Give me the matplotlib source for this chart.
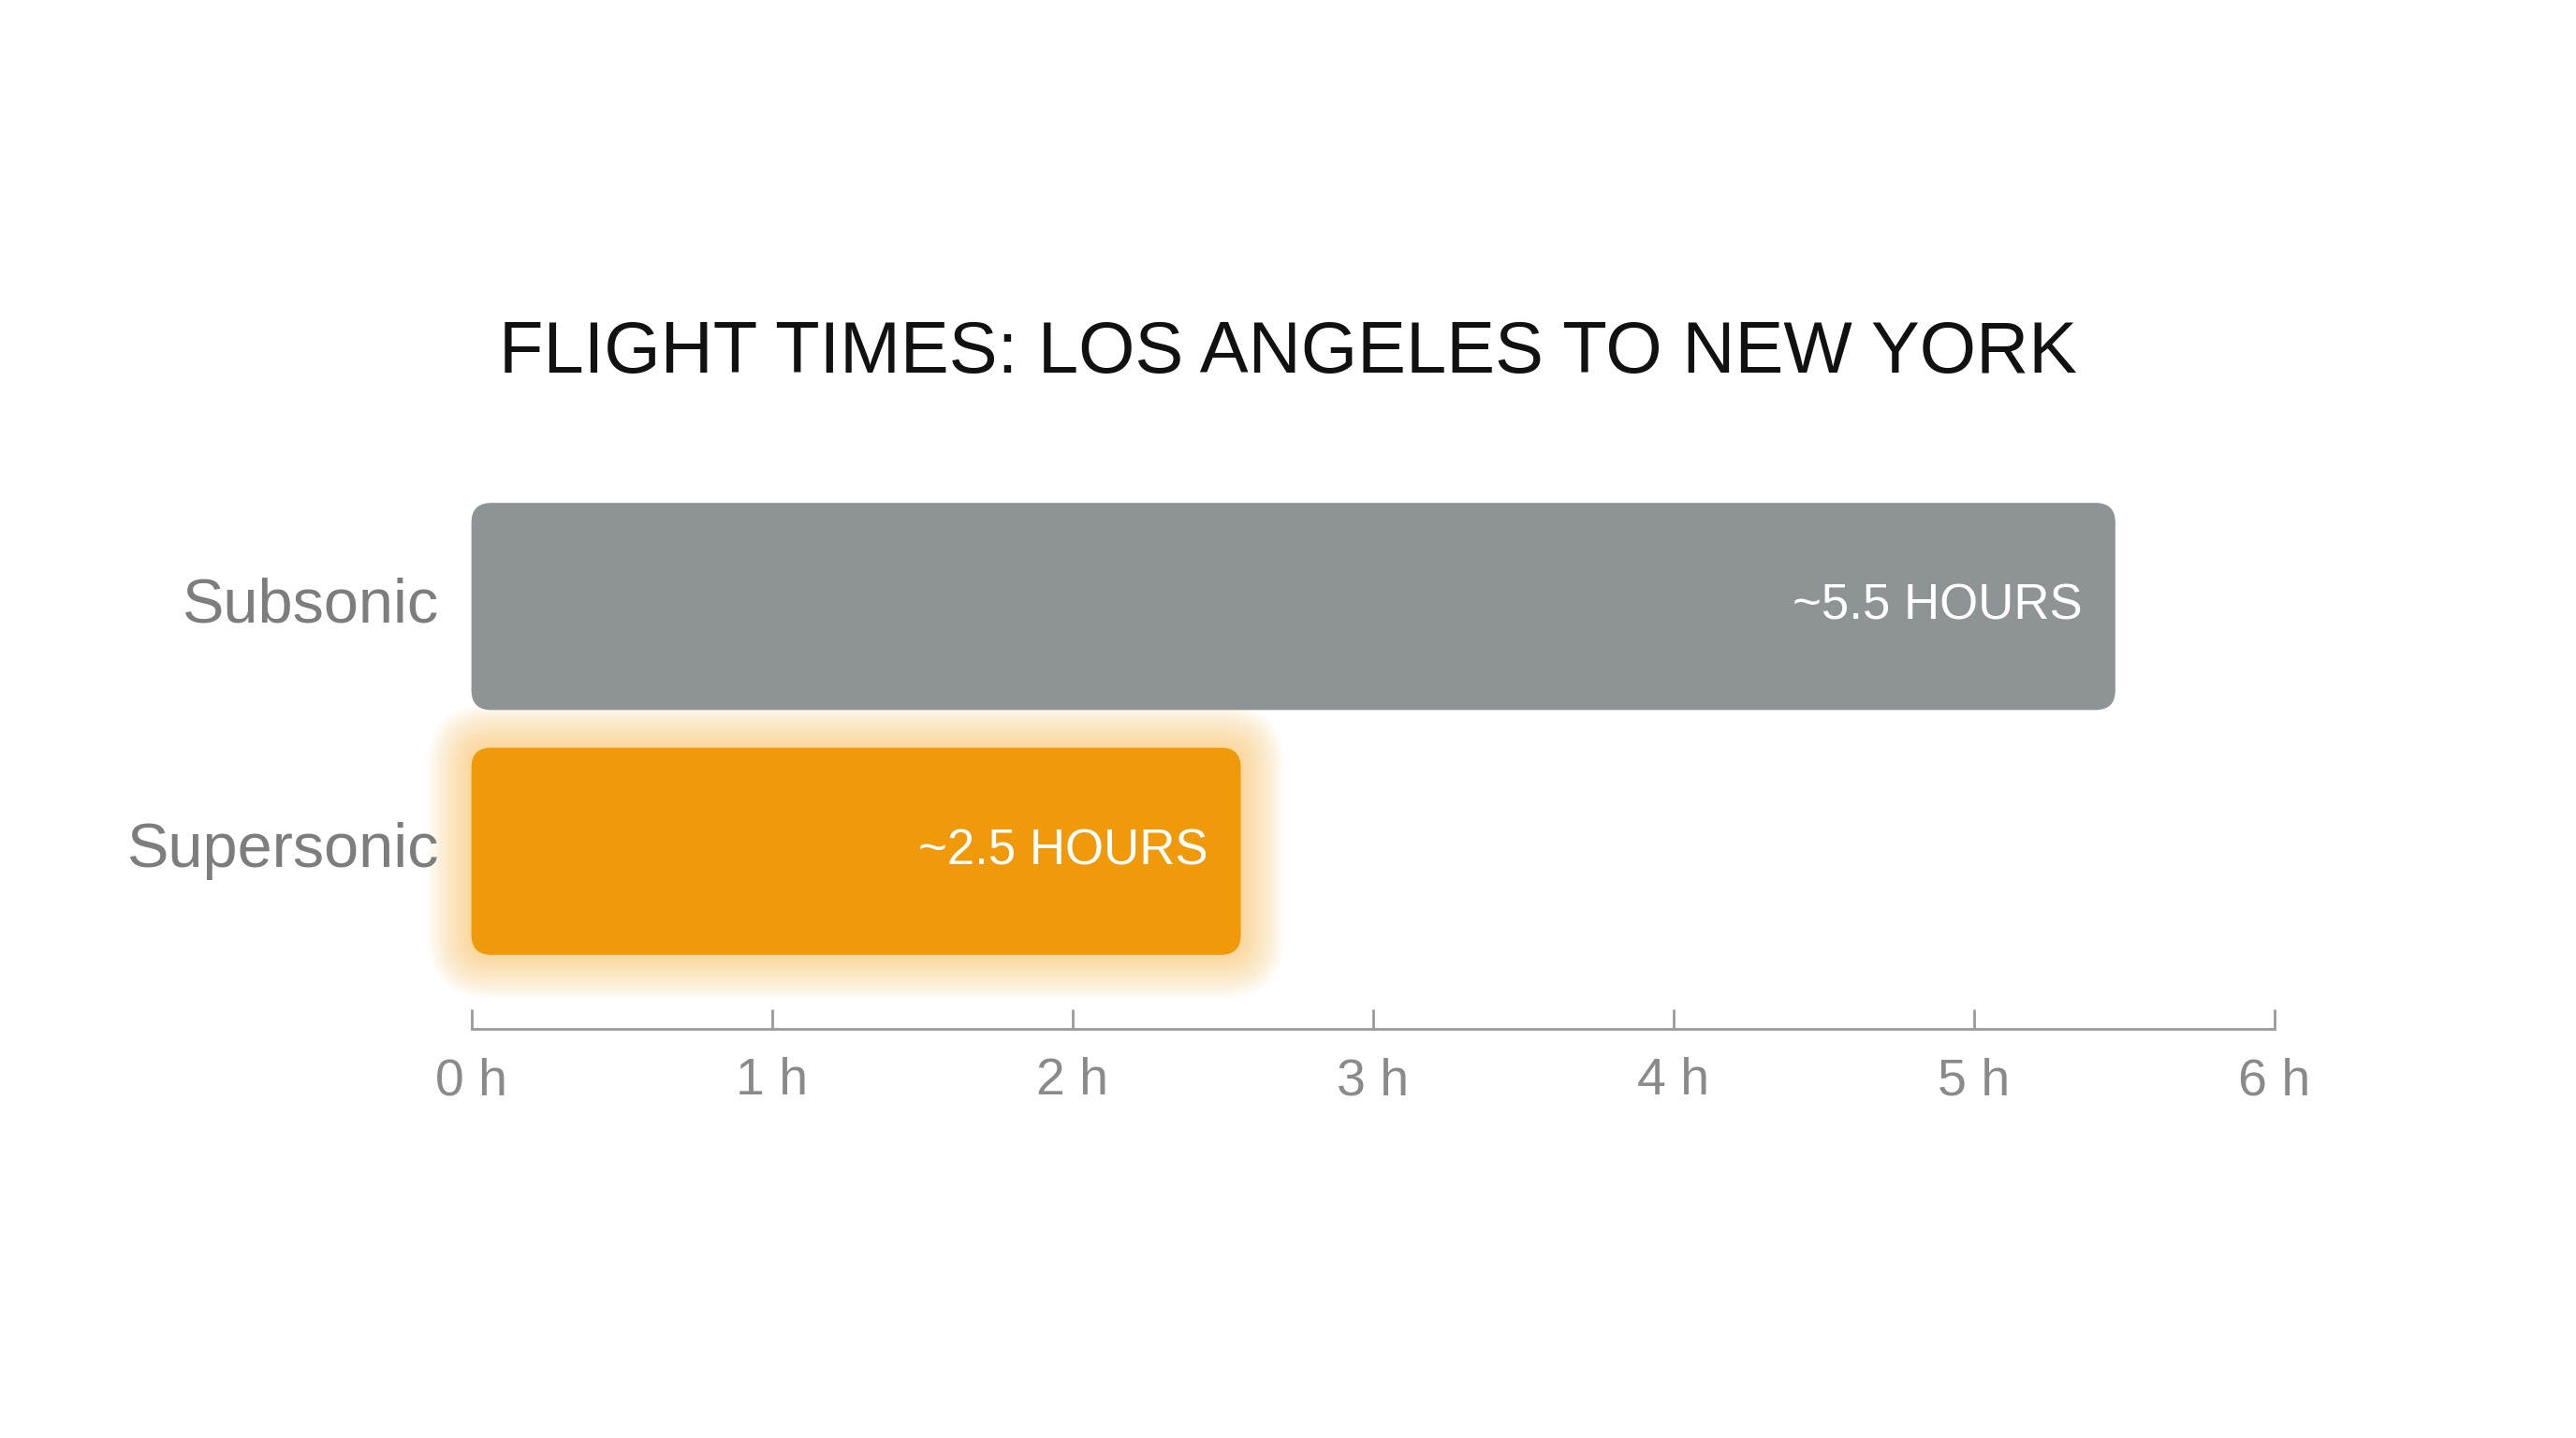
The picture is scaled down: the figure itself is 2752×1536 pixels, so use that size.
import matplotlib
matplotlib.use("Agg")
import matplotlib.pyplot as plt
from matplotlib.patches import FancyBboxPatch

plt.rcParams['font.family'] = ['Liberation Sans', 'DejaVu Sans']

categories = ["Supersonic", "Subsonic"]
hours = [2.56, 5.47]
value_labels = ["~2.5 HOURS", "~5.5 HOURS"]
tick_values = [0, 1, 2, 3, 4, 5, 6]
tick_labels = ["0 h", "1 h", "2 h", "3 h", "4 h", "5 h", "6 h"]
title = "FLIGHT TIMES: LOS ANGELES TO NEW YORK"

colors = ["#F0990A", "#8E9496"]
bar_h = 0.846
rs = 0.066
aspect = 1.22

fig = plt.figure(figsize=(27.52, 15.36), dpi=100)
fig.patch.set_facecolor("white")
ax = fig.add_axes([0.183, 0.2846, 0.700, 0.372])
ax.set_xlim(0, 6)
ax.set_ylim(-0.725, 1.46)

for i, (cat, v, lab) in enumerate(zip(categories, hours, value_labels)):
    if i == 0:
        # soft glow around the supersonic bar
        for k in range(12, 0, -1):
            g = k * 0.012
            glow = FancyBboxPatch((-g, i - bar_h / 2 - g * aspect), v + 2 * g, bar_h + 2 * g * aspect,
                                  boxstyle=f"round,pad=0,rounding_size={rs + g}",
                                  mutation_aspect=aspect, facecolor="#FBB640",
                                  edgecolor="none", alpha=0.05, clip_on=False, zorder=1)
            ax.add_patch(glow)
    bar = FancyBboxPatch((0, i - bar_h / 2), v, bar_h,
                         boxstyle=f"round,pad=0,rounding_size={rs}",
                         mutation_aspect=aspect, facecolor=colors[i],
                         edgecolor="none", clip_on=False, zorder=2)
    ax.add_patch(bar)
    ax.text(v - 0.11, i, lab, ha="right", va="center", color="white",
            fontsize=38, zorder=3)
    ax.text(-0.11, i, cat, ha="right", va="center", color="#7d7d7d",
            fontsize=48)

for s in ["top", "right", "left"]:
    ax.spines[s].set_visible(False)
ax.spines["bottom"].set_color("#9a9a9a")
ax.spines["bottom"].set_linewidth(2)
ax.set_yticks([])
ax.set_xticks(tick_values)
ax.set_xticklabels(tick_labels)
ax.tick_params(axis="x", direction="in", length=15, width=2, color="#9a9a9a",
               labelsize=40, labelcolor="#8a8a8a", pad=22)

fig.text(0.5, 1 - 215 / 875, title, ha="center", va="center",
         fontsize=56, color="#111111")

fig.savefig("out.png", dpi=100)
